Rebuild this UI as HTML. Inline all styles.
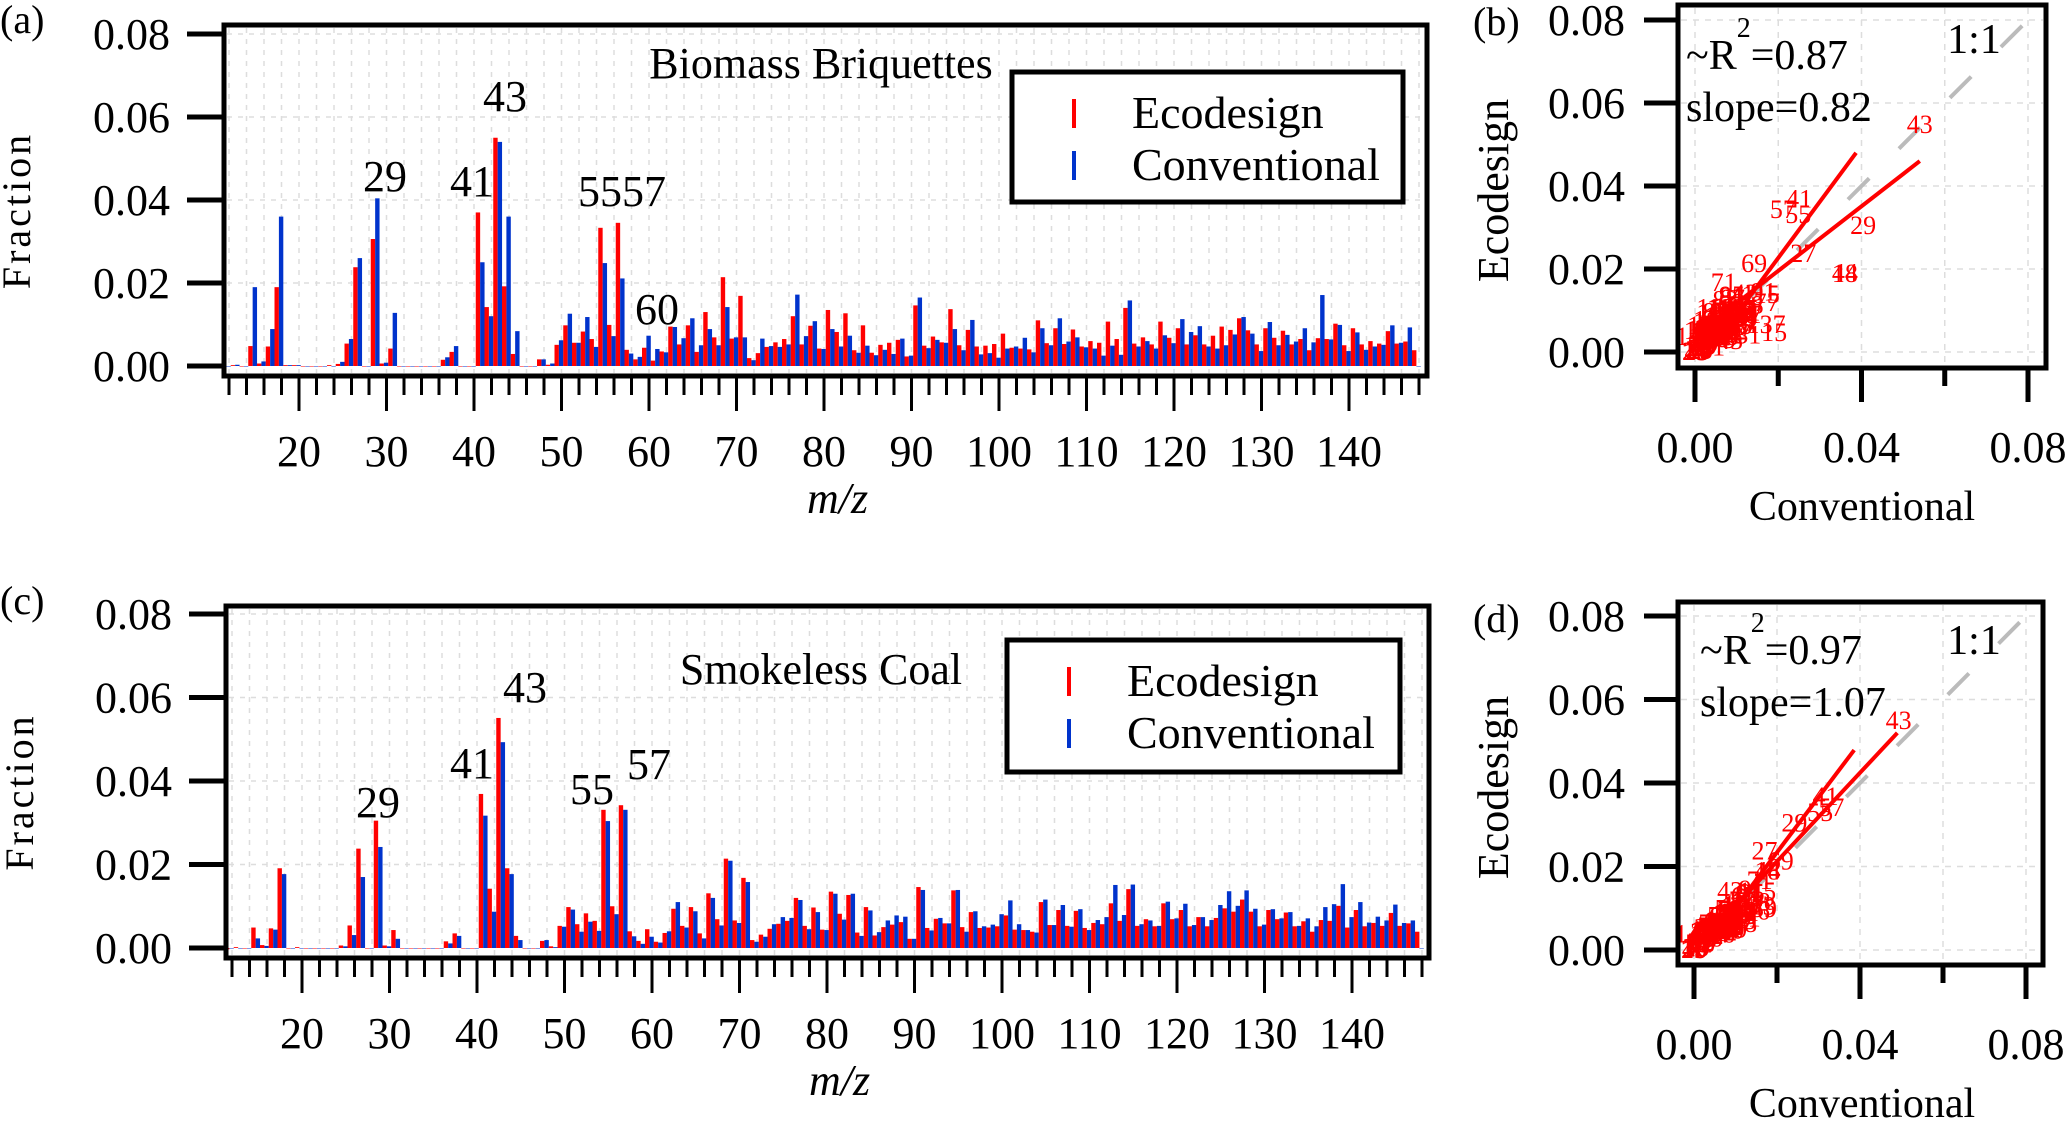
<!DOCTYPE html>
<html><head><meta charset="utf-8"><style>
body{margin:0;background:#fff}
svg{display:block}
svg text{font-family:"Liberation Serif","Times New Roman",Times,serif}
</style></head><body>
<svg id="fig" width="2067" height="1124" viewBox="0 0 2067 1124" xmlns="http://www.w3.org/2000/svg" font-family="Liberation Serif, Times New Roman, serif">
<rect width="2067" height="1124" fill="#fff"/>
<g id="pa"></g>
<g id="pb"></g>
<g id="pc"></g>
<g id="pd"></g>
</svg>
<script>
// m/z categories 12..148
const mzCats = Array.from({length:137},(_,i)=>i+12);
// Panel (a) Biomass Briquettes, m/z 12..148
const ecoA = [-0.0003,0.0002,0,0.0048,0.0006,0.0047,0.019,0.0002,0.0002,0,0,0,0.0002,0.0005,0.0054,0.0238,0,0.0306,0.0006,0.0042,
0,0,0,0,0,0.0015,0.0034,0,0,0.037,0.0142,0.055,0.0192,0.0029,0,0,0.0016,0.0003,0.0051,0.0098,
0.0056,0.0083,0.0065,0.0333,0.0099,0.0345,0.0039,0.0016,0.0044,0.0013,0.0035,0.0095,0.0052,0.0098,0.0034,0.013,0.0069,0.0214,0.0066,0.0169,
0.0019,0.0031,0.0046,0.0057,0.0065,0.012,0.0052,0.0097,0.0042,0.0135,0.0082,0.0127,0.0038,0.0098,0.0032,0.0051,0.0056,0.0063,0.0023,0.0146,
0.0049,0.0071,0.0057,0.0137,0.005,0.0087,0.0047,0.0049,0.0053,0.0078,0.0044,0.0042,0.004,0.011,0.0055,0.0091,0.0053,0.0088,0.0047,0.006,
0.0056,0.0107,0.0065,0.014,0.0054,0.0069,0.0052,0.0107,0.0068,0.0091,0.0052,0.0074,0.0052,0.0073,0.0095,0.0087,0.0115,0.0086,0.0052,0.0091,
0.0068,0.0085,0.0052,0.0065,0.0038,0.0067,0.0065,0.0102,0.005,0.0091,0.0052,0.006,0.0054,0.0084,0.0054,0.0059,0.0038];
const convA = [0,0.0003,0,0.019,0.0011,0.0089,0.036,0.0002,0.0002,0,0,0,0,0.001,0.0065,0.026,0,0.0404,0.0008,0.0128,
0,0,0,0,0,0.0021,0.0048,0,0,0.025,0.012,0.054,0.036,0.0084,0,0,0.0016,0.0006,0.0062,0.0126,
0.0056,0.0118,0.0046,0.0248,0.0072,0.0211,0.003,0.0022,0.0073,0.0041,0.0033,0.0094,0.0067,0.0115,0.005,0.0089,0.005,0.0142,0.0069,0.0069,
0.0014,0.0066,0.0048,0.0046,0.0052,0.0172,0.0072,0.0108,0.0041,0.0089,0.0047,0.0073,0.0032,0.0049,0.0026,0.0039,0.0029,0.0066,0.0025,0.0165,
0.0043,0.0063,0.0056,0.0089,0.0038,0.0111,0.0028,0.0031,0.002,0.0042,0.0047,0.0068,0.0033,0.0091,0.005,0.0115,0.0059,0.0069,0.0045,0.0042,
0.0025,0.0049,0.0027,0.0158,0.0047,0.006,0.0042,0.0074,0.0055,0.0113,0.0082,0.0096,0.0047,0.0042,0.005,0.0076,0.0118,0.0078,0.0036,0.0106,
0.005,0.0075,0.0059,0.0091,0.0057,0.0171,0.0064,0.0099,0.0036,0.0081,0.0039,0.0047,0.0051,0.0098,0.0056,0.0093,0];
// Panel (c) Smokeless Coal, m/z 12..148
const ecoC = [-0.0003,0.0002,0,0.0049,0.0007,0.0047,0.0191,0,0.0002,0,0,0,0,0.0006,0.0054,0.0238,0,0.0305,0.0006,0.0043,
0,0,0,0,0,0.0016,0.0035,0,0,0.0369,0.0142,0.0551,0.0191,0.0029,0,0,0.0017,0.0004,0.0053,0.0098,
0.0057,0.0083,0.0065,0.0331,0.01,0.0342,0.004,0.0017,0.0045,0.0015,0.0036,0.0094,0.0053,0.0098,0.0035,0.0131,0.0069,0.0214,0.0066,0.0168,
0.0019,0.0032,0.0046,0.0058,0.0065,0.012,0.0053,0.0097,0.0044,0.0135,0.0082,0.0127,0.0037,0.0098,0.003,0.005,0.0056,0.0062,0.0022,0.0146,
0.0048,0.007,0.0059,0.0138,0.005,0.0086,0.0048,0.0049,0.0052,0.0078,0.0044,0.0043,0.0039,0.011,0.0055,0.0091,0.0053,0.0089,0.0048,0.006,
0.0057,0.0107,0.0065,0.0141,0.0053,0.0069,0.0052,0.0107,0.0069,0.0091,0.0052,0.0074,0.0052,0.0072,0.0095,0.0087,0.0116,0.0087,0.0052,0.0091,
0.0069,0.0085,0.0052,0.0064,0.0039,0.0067,0.0065,0.0101,0.0049,0.0091,0.0052,0.006,0.0053,0.0084,0.0053,0.0059,0.0039];
const convC = [0,0,0,0.0023,0.0005,0.0044,0.0177,0,0,0,0,0,0,0.0004,0.0031,0.017,0,0.0242,0.0004,0.0022,
0,0,0,0,0,0.0011,0.0029,0,0,0.0317,0.0087,0.0493,0.0177,0.0019,0,0,0.0019,0.0002,0.0051,0.0092,
0.0039,0.0063,0.0041,0.0304,0.0081,0.0331,0.0028,0.001,0.0027,0.0013,0.004,0.011,0.0049,0.0088,0.0023,0.012,0.0054,0.0209,0.006,0.0158,
0.0015,0.0027,0.0057,0.0074,0.0072,0.0115,0.0045,0.0086,0.0043,0.013,0.0068,0.013,0.0029,0.009,0.0038,0.0066,0.0078,0.0075,0.0022,0.0139,
0.0042,0.0072,0.0059,0.0139,0.0039,0.0088,0.0052,0.0056,0.0081,0.0114,0.0057,0.0043,0.0037,0.0116,0.0055,0.0103,0.0051,0.0093,0.0043,0.0067,
0.0074,0.0151,0.0079,0.0152,0.0057,0.0066,0.0053,0.0111,0.0071,0.0106,0.0055,0.0074,0.0067,0.0103,0.0136,0.0101,0.0138,0.0094,0.0056,0.0093,
0.0071,0.0086,0.0053,0.0071,0.0052,0.0098,0.0105,0.0153,0.0074,0.011,0.0061,0.0075,0.0066,0.0104,0.006,0.0066,0];
const yTicks = [0,0.02,0.04,0.06,0.08];
const yTickLabels = ["0.00","0.02","0.04","0.06","0.08"];
const xTicks = [20,30,40,50,60,70,80,90,100,110,120,130,140];
const sxTicks = [0,0.02,0.04,0.06,0.08];
const sxTickLabels = ["0.00","","0.04","","0.08"];

const NS="http://www.w3.org/2000/svg";
const FF="Liberation Serif, Times New Roman, serif";
function el(p,tag,at){const e=document.createElementNS(NS,tag);for(const k in at)e.setAttribute(k,at[k]);p.appendChild(e);return e;}
function txt(p,x,y,s,size,extra){const t=el(p,'text',Object.assign({x:x,y:y,'font-size':size,fill:'#000','font-family':FF},extra||{}));t.textContent=s;return t;}

function barPanel(g, eco, conv, o){
  const X=m=>o.x20+(m-20)*8.75;
  const Y=v=>o.y0-v/0.08*o.ySpan;
  for(let m=12;m<=148;m+=2){const l=el(g,'line',{x1:X(m),x2:X(m),y1:o.top+3,y2:o.bot-3,stroke:'#ddd','stroke-width':1.5,'stroke-dasharray':'5,6'});
  
  }
  for(let i=1;i<yTicks.length;i++){const l=el(g,'line',{x1:o.left+3,x2:o.right-3,y1:Y(yTicks[i]),y2:Y(yTicks[i]),stroke:'#ddd','stroke-width':1.5,'stroke-dasharray':'5,6'});
  
  }
  for(let i=0;i<mzCats.length;i++){const m=mzCats[i];
    const r=eco[i],b=conv[i];
    const yr=Y(Math.max(r,0)),hr=Math.abs(Y(r)-Y(0));
    const br=el(g,'rect',{x:X(m)-7,y:r>=0?yr:Y(0),width:4.4,height:Math.max(hr,0.5),fill:'#ff0000'});
    
    
    const hb=Math.abs(Y(b)-Y(0));
    const bb=el(g,'rect',{x:X(m)-2.6,y:Y(Math.max(b,0)),width:4.4,height:Math.max(hb,0.5),fill:'#0033cc'});
    
    
  }
  const fr=el(g,'rect',{x:o.left,y:o.top,width:o.right-o.left,height:o.bot-o.top,fill:'none',stroke:'#000','stroke-width':5});
  
  
  yTicks.forEach((v,i)=>{el(g,'line',{x1:o.left-37,x2:o.left,y1:Y(v),y2:Y(v),stroke:'#000','stroke-width':5});
    const t=txt(g,o.left-54,Y(v)+15,yTickLabels[i],44,{'text-anchor':'end'});
    
    });
  for(let m=12;m<=148;m+=2){const major=m%10===0;
    el(g,'line',{x1:X(m),x2:X(m),y1:o.bot+2,y2:o.bot+(major?35:19),stroke:'#000','stroke-width':3});}
  xTicks.forEach(m=>{const t=txt(g,X(m),o.bot+90,String(m),44,{'text-anchor':'middle'});
    
    });
  const xt=txt(g,(o.left+o.right)/2+12,o.bot+137,'m/z',44,{'text-anchor':'middle','font-style':'italic'});
  
  
  const yt=txt(g,0,0,'Fraction',40,{'text-anchor':'middle','letter-spacing':'3',transform:`translate(${o.fracX},${(o.top+o.bot)/2+10}) rotate(-90)`});
  
  
  const pl=txt(g,0,o.top+8,o.panel,40);
  
  
  const ti=txt(g,821,o.titleY,o.title,44,{'text-anchor':'middle'});
  
  
  o.peaks.forEach(p=>{const t=txt(g,p[1],p[2],p[0],44,{'text-anchor':'middle'});
    
    });
  const lg=el(g,'g',{});
  
  
  el(lg,'rect',{x:o.lg[0],y:o.lg[1],width:o.lg[2],height:o.lg[3],fill:'#fff',stroke:'#000','stroke-width':5});
  el(lg,'rect',{x:o.lg[0]+60,y:o.lg[1]+27,width:4,height:29,fill:'#ff0000'});
  el(lg,'rect',{x:o.lg[0]+60,y:o.lg[1]+79,width:4,height:29,fill:'#0033cc'});
  const e1=txt(lg,o.lg[0]+120,o.lg[1]+56,'Ecodesign',46);
  
  
  const e2=txt(lg,o.lg[0]+120,o.lg[1]+108,'Conventional',46);
  
  
}

function scatterPanel(g, eco, conv, o){
  const X=v=>o.x0+v/0.08*o.xs, Y=v=>o.y0-v/0.08*o.ys;
  sxTicks.forEach(v=>{
    el(g,'line',{x1:X(v),x2:X(v),y1:o.top+3,y2:o.bot-3,stroke:'#ddd','stroke-width':1.5,'stroke-dasharray':'6,6'});
    el(g,'line',{x1:o.left+3,x2:o.right-3,y1:Y(v),y2:Y(v),stroke:'#ddd','stroke-width':1.5,'stroke-dasharray':'6,6'});
  });
  const cp=el(g,'clipPath',{id:o.id+'clip'});el(cp,'rect',{x:o.left,y:o.top,width:o.right-o.left,height:o.bot-o.top});
  const inner=el(g,'g',{'clip-path':`url(#${o.id}clip)`});
  const one=el(inner,'line',{x1:X(0),y1:Y(0),x2:X(0.08),y2:Y(0.08),stroke:'#bbb','stroke-width':4,'stroke-dasharray':'30,42'});
  
  
  for(let i=0;i<mzCats.length;i++){
    if(eco[i]<=0&&conv[i]<=0)continue;
    const t=txt(inner,X(conv[i]),Y(eco[i])+9,String(mzCats[i]),26,{'text-anchor':'middle',fill:'#ff0000'});
    
    
  }
  o.fits.forEach(f=>{const l=el(inner,'line',{x1:X(f[0]),y1:Y(f[1]),x2:X(f[2]),y2:Y(f[3]),stroke:'#ff0000','stroke-width':4});
    
    });
  const fr=el(g,'rect',{x:o.left,y:o.top,width:o.right-o.left,height:o.bot-o.top,fill:'none',stroke:'#000','stroke-width':5});
  
  
  sxTicks.forEach((v,i)=>{
    el(g,'line',{x1:o.left-34,x2:o.left,y1:Y(v),y2:Y(v),stroke:'#000','stroke-width':5});
    const t=txt(g,o.left-53,Y(v)+15,yTickLabels[i],44,{'text-anchor':'end'});
    
    
    const maj=sxTickLabels[i]!=='';
    el(g,'line',{x1:X(v),x2:X(v),y1:o.bot+2,y2:o.bot+(maj?34:18),stroke:'#000','stroke-width':5});
    if(maj){const tx=txt(g,X(v),o.bot+94,sxTickLabels[i],44,{'text-anchor':'middle'});
      
      }
  });
  const xt=txt(g,1862,o.bot+152,'Conventional',42,{'text-anchor':'middle'});
  
  
  const yt=txt(g,0,0,'Ecodesign',44,{'text-anchor':'middle',transform:`translate(1508,${(o.top+o.bot)/2+4}) rotate(-90)`});
  
  
  const pl=txt(g,1473,o.top+30,o.panel,40);
  
  
  const r2=txt(g,o.left+8+o.tx,o.top+o.r2y,'~R',42);
  
  
  const sup=el(r2,'tspan',{'font-size':28,dy:-32});sup.textContent='2';
  const rest=el(r2,'tspan',{dy:32});rest.textContent='='+o.r2;
  const sl=txt(g,o.left+8+o.tx,o.top+o.r2y+52,'slope='+o.slope,42);
  
  
  const oo=txt(g,1974,o.top+o.oney,'1:1',42,{'text-anchor':'middle'});
  
  
}

barPanel(document.getElementById('pa'),ecoA,convA,{x20:299,y0:366,ySpan:332,left:224,right:1427,top:25,bot:376,fracX:30,
  panel:'(a)',title:'Biomass Briquettes',titleY:78,
  peaks:[['43',505,111],['29',385,191],['41',472,196],['5557',622,206],['60',657,324]],
  lg:[1012,72,391,130]});
barPanel(document.getElementById('pc'),ecoC,convC,{x20:302,y0:948,ySpan:334,left:226,right:1429,top:606,bot:958,fracX:33,
  panel:'(c)',title:'Smokeless Coal',titleY:684,
  peaks:[['43',525,702],['29',378,817],['41',472,778],['55',592,804],['57',649,779]],
  lg:[1007,640,393,132]});
scatterPanel(document.getElementById('pb'),ecoA,convA,{id:'b',x0:1695,xs:333,y0:352,ys:332,left:1678,right:2046,top:5,bot:368,
  panel:'(b)',r2:'0.87',slope:'0.82',r2y:64,oney:48,tx:0,
  fits:[[0.004,0.001,0.0387,0.048],[0,0.004,0.054,0.046]]});
scatterPanel(document.getElementById('pd'),ecoC,convC,{id:'d',x0:1694,xs:332,y0:950,ys:334,left:1678,right:2043,top:602,bot:965,
  panel:'(d)',r2:'0.97',slope:'1.07',r2y:62,oney:52,tx:14,
  fits:[[0.003,0.001,0.0386,0.0479],[0,0.0,0.049,0.052]]});
</script>
</body></html>
